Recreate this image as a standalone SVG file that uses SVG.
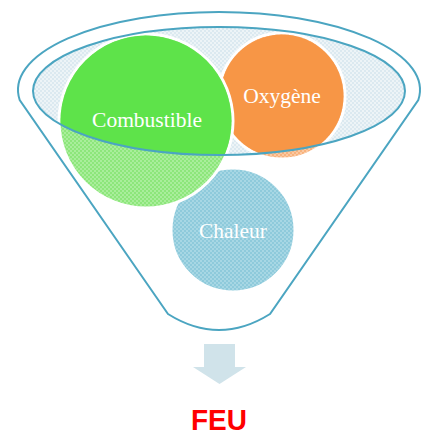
<svg xmlns="http://www.w3.org/2000/svg" width="430" height="435" viewBox="0 0 430 435">
<style>
.rim{fill:none;stroke:#4ba5c1;stroke-width:2}
.lbl{font-family:"Liberation Serif","Times New Roman",serif;font-size:21.5px;fill:#ffffff;text-anchor:middle}
.circ{stroke:#ffffff;stroke-width:3}
</style>
<defs>
<pattern id="pIce" width="4" height="4" patternUnits="userSpaceOnUse"><rect width="4" height="4" fill="#dbe9f0"/><rect width="2" height="2" fill="#edf4f7"/><rect x="2" y="2" width="2" height="2" fill="#edf4f7"/></pattern>
<pattern id="pGreen" width="4" height="4" patternUnits="userSpaceOnUse"><rect width="4" height="4" fill="#8de67b"/><rect width="2" height="2" fill="#a9ee9b"/><rect x="2" y="2" width="2" height="2" fill="#a9ee9b"/></pattern>
<pattern id="pBlue" width="4" height="4" patternUnits="userSpaceOnUse"><rect width="4" height="4" fill="#8ecadb"/><rect width="2" height="2" fill="#a7d7e4"/><rect x="2" y="2" width="2" height="2" fill="#a7d7e4"/></pattern>
<pattern id="pOrange" width="4" height="4" patternUnits="userSpaceOnUse"><rect width="4" height="4" fill="#f8b27c"/><rect width="2" height="2" fill="#fbc9a2"/><rect x="2" y="2" width="2" height="2" fill="#fbc9a2"/></pattern>
<clipPath id="inner"><ellipse cx="219" cy="91" rx="186" ry="64"/></clipPath>
</defs>
<g id="funnel">
<path class="rim" d="M168,314 L19.7,100 A201,78 0 1 1 418.3,100 L270,314 Q219,346 168,314 Z"/>
<ellipse cx="219" cy="91" rx="186" ry="64" fill="url(#pIce)"/>
</g>
<g id="node-chaleur">
<circle class="circ" cx="233" cy="230" r="62" fill="url(#pBlue)"/>
<text class="lbl" x="233" y="238">Chaleur</text>
</g>
<g id="node-oxygene">
<circle class="circ" cx="282" cy="96" r="63" fill="url(#pOrange)"/>
<circle cx="282" cy="96" r="61.5" fill="#f79646" clip-path="url(#inner)"/>
<text class="lbl" x="282" y="103">Oxygène</text>
</g>
<g id="node-combustible">
<circle class="circ" cx="146" cy="121" r="87" fill="url(#pGreen)"/>
<circle cx="146" cy="121" r="85.5" fill="#5ee34a" clip-path="url(#inner)"/>
<text class="lbl" x="147" y="127">Combustible</text>
</g>
<g id="rim-front">
<ellipse class="rim" cx="219" cy="91" rx="186" ry="64"/>
</g>
<g id="connectors">
<path d="M204,344 H235 V367 H246 L219.5,384 L193,367 H204 Z" fill="#d0e3ea"/>
</g>
<g id="node-feu">
<text x="219" y="430" text-anchor="middle" font-family="Liberation Sans,Arial,sans-serif" font-weight="bold" font-size="30" fill="#ff0000" textLength="56" lengthAdjust="spacingAndGlyphs">FEU</text>
</g>
</svg>
